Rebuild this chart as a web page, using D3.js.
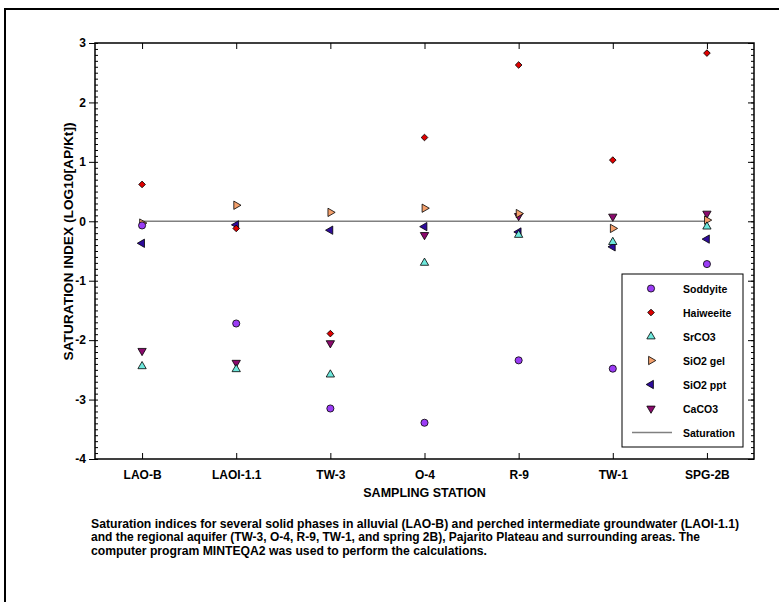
<!DOCTYPE html>
<html>
<head>
<meta charset="utf-8">
<script src="https://cdn.jsdelivr.net/npm/d3@7"></script>
<style>
  body { margin: 0; background: #fff; }
  svg { display: block; }
  text { font-family: "Liberation Sans", Arial, sans-serif; font-weight: bold; fill: #000; }
</style>
</head>
<body>
<svg id="chart" width="779" height="602"></svg>
<script>
// ---- data ----
const stations = ["LAO-B", "LAOI-1.1", "TW-3", "O-4", "R-9", "TW-1", "SPG-2B"];
const soddyite  = [-0.07, -1.72, -3.15, -3.39, -2.34, -2.48, -0.72];
const haiweeite = [ 0.62, -0.12, -1.89,  1.41,  2.63,  1.03,  2.83];
const srco3     = [-2.44, -2.49, -2.58, -0.70, -0.23, -0.35, -0.09];
const sio2gel   = [-0.03,  0.27,  0.15,  0.22,  0.13, -0.12,  0.02];
const sio2ppt   = [-0.37, -0.06, -0.15, -0.09, -0.18, -0.43, -0.30];
const caco3     = [-2.18, -2.38, -2.05, -0.23,  0.09,  0.08,  0.13];
const saturation = [0, 0];
const yTicks = [3, 2, 1, 0, -1, -2, -3, -4];
const seriesNames = ["Soddyite", "Haiweeite", "SrCO3", "SiO2 gel", "SiO2 ppt", "CaCO3"];
const captionLines = [
  "Saturation indices for several solid phases in alluvial (LAO-B) and perched intermediate groundwater (LAOI-1.1)",
  "and the regional aquifer (TW-3, O-4, R-9, TW-1, and spring 2B), Pajarito Plateau and surrounding areas. The",
  "computer program MINTEQA2 was used to perform the calculations."
];

const series = [
  { name: seriesNames[0], values: soddyite,  shape: "circle",  fill: "#9b3cf5" },
  { name: seriesNames[1], values: haiweeite, shape: "diamond", fill: "#e00000" },
  { name: seriesNames[2], values: srco3,     shape: "up",      fill: "#6ee8dc" },
  { name: seriesNames[3], values: sio2gel,   shape: "right",   fill: "#f4a06c" },
  { name: seriesNames[4], values: sio2ppt,   shape: "left",    fill: "#2e0b9c" },
  { name: seriesNames[5], values: caco3,     shape: "down",    fill: "#8c0a6e" }
];

// ---- layout ----
const svg = d3.select("#chart");
const L = 95, R = 754, T = 43, B = 459;
const FONT = '"Liberation Sans", Arial, sans-serif';

const x = d3.scaleBand().domain(stations).range([L, R]).padding(0);
const y = d3.scaleLinear().domain([-4, 3]).range([B, T]);
const cx = s => x(s) + x.bandwidth() / 2;

// outer frame
svg.append("rect").attr("x", 5).attr("y", 9).attr("width", 800).attr("height", 620)
  .attr("fill", "none").attr("stroke", "#000").attr("stroke-width", 2);

// symbol generator
function symPath(shape) {
  const g = d3.symbol();
  if (shape === "circle") return { d: g.type(d3.symbolCircle).size(40)(), rot: 0 };
  if (shape === "diamond") return { d: g.type(d3.symbolSquare).size(22)(), rot: 45 };
  const rot = { up: 0, right: 90, down: 180, left: -90 }[shape];
  return { d: g.type(d3.symbolTriangle).size(30)(), rot };
}

// axes
const yMinor = d3.range(-40, 31).map(v => v / 10);
const gAx = svg.append("g");

// left axis: major out, minor in
gAx.append("g").attr("transform", `translate(${L},0)`)
  .call(d3.axisLeft(y).tickValues(yTicks).tickSize(6).tickFormat(d => String(d)))
  .call(g => g.select(".domain").remove())
  .call(g => g.selectAll("line").attr("stroke", "#000").attr("stroke-width", 1))
  .call(g => g.selectAll("text").attr("x", -9).style("font-size", "12px")
    .style("font-family", FONT).style("font-weight", "bold"));
gAx.append("g").attr("transform", `translate(${L},0)`)
  .call(d3.axisRight(y).tickValues(yMinor).tickSize(3).tickFormat(""))
  .call(g => g.select(".domain").remove())
  .call(g => g.selectAll("line").attr("stroke", "#000").attr("stroke-width", 1));

// right axis: ticks inward
gAx.append("g").attr("transform", `translate(${R},0)`)
  .call(d3.axisLeft(y).tickValues(yMinor).tickSize(3).tickFormat(""))
  .call(g => g.select(".domain").remove())
  .call(g => g.selectAll("line").attr("stroke", "#000").attr("stroke-width", 1));
gAx.append("g").attr("transform", `translate(${R},0)`)
  .call(d3.axisLeft(y).tickValues(yTicks).tickSize(6).tickFormat(""))
  .call(g => g.select(".domain").remove())
  .call(g => g.selectAll("line").attr("stroke", "#000").attr("stroke-width", 1));

// bottom axis: ticks inward, labels below
const xPoint = d3.scalePoint().domain(stations).range([cx(stations[0]), cx(stations[stations.length - 1])]);
gAx.append("g").attr("transform", `translate(0,${B})`)
  .call(d3.axisTop(xPoint).tickSize(6).tickFormat(""))
  .call(g => g.select(".domain").remove())
  .call(g => g.selectAll("line").attr("stroke", "#000"));
gAx.append("g").attr("transform", `translate(0,${B})`)
  .call(d3.axisBottom(xPoint).tickSize(0).tickPadding(11))
  .call(g => g.select(".domain").remove())
  .call(g => g.selectAll("text").style("font-size", "12px")
    .style("font-family", FONT).style("font-weight", "bold"));
// top axis: ticks inward
gAx.append("g").attr("transform", `translate(0,${T})`)
  .call(d3.axisBottom(xPoint).tickSize(6).tickFormat(""))
  .call(g => g.select(".domain").remove())
  .call(g => g.selectAll("line").attr("stroke", "#000"));

// plot frame
svg.append("rect").attr("x", L).attr("y", T).attr("width", R - L).attr("height", B - T)
  .attr("fill", "none").attr("stroke", "#000").attr("stroke-width", 1.5);

// saturation line
svg.append("line")
  .attr("x1", cx(stations[0])).attr("x2", cx(stations[stations.length - 1]))
  .attr("y1", y(saturation[0])).attr("y2", y(saturation[1]))
  .attr("stroke", "#808080").attr("stroke-width", 1.5);

// markers (drawn in reverse legend order)
series.slice().reverse().forEach(s => {
  const p = symPath(s.shape);
  svg.append("g").selectAll("path").data(s.values).join("path")
    .attr("d", p.d)
    .attr("transform", (v, i) => `translate(${cx(stations[i])},${y(v)}) rotate(${p.rot})`)
    .attr("fill", s.fill).attr("stroke", "#000").attr("stroke-width", 0.8);
});

// axis titles
svg.append("text").attr("x", (L + R) / 2).attr("y", 497).attr("text-anchor", "middle")
  .style("font-size", "12.5px").text("SAMPLING STATION");
svg.append("text").attr("transform", `translate(73,241.5) rotate(-90)`)
  .attr("text-anchor", "middle").style("font-size", "12px")
  .attr("textLength", 238).attr("lengthAdjust", "spacingAndGlyphs")
  .text("SATURATION INDEX (LOG10[AP/Kt])");

// legend
const lg = svg.append("g");
lg.append("rect").attr("x", 622).attr("y", 274).attr("width", 121).attr("height", 173)
  .attr("fill", "#fff").attr("stroke", "#000").attr("stroke-width", 1);
series.forEach((s, i) => {
  const yy = 288.5 + i * 24;
  const p = symPath(s.shape);
  lg.append("path").attr("d", p.d)
    .attr("transform", `translate(651,${yy}) rotate(${p.rot})`)
    .attr("fill", s.fill).attr("stroke", "#000").attr("stroke-width", 0.8);
  lg.append("text").attr("x", 683).attr("y", yy + 4).style("font-size", "10.5px").text(s.name);
});
lg.append("line").attr("x1", 632).attr("x2", 672).attr("y1", 432.5).attr("y2", 432.5)
  .attr("stroke", "#808080").attr("stroke-width", 1.5);
lg.append("text").attr("x", 683).attr("y", 436.5).style("font-size", "10.5px").text("Saturation");

// caption
const capLengths = [648, 609, 396];
captionLines.forEach((t, i) => {
  svg.append("text").attr("x", 91).attr("y", 527.5 + i * 13.5)
    .style("font-size", "12px")
    .attr("textLength", capLengths[i]).attr("lengthAdjust", "spacingAndGlyphs")
    .text(t);
});
</script>
</body>
</html>
